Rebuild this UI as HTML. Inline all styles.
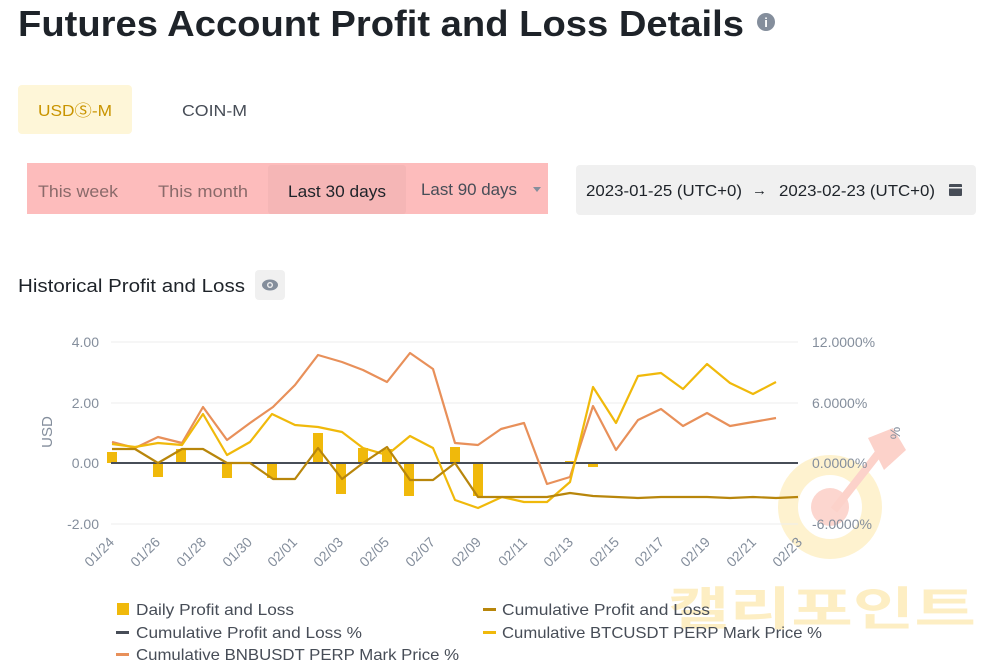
<!DOCTYPE html>
<html><head><meta charset="utf-8"><style>
html,body{margin:0;padding:0;background:#fff;}
svg{display:block;font-family:"Liberation Sans","Noto Sans CJK KR",sans-serif;}
</style></head><body>
<svg width="988" height="666" viewBox="0 0 988 666" xmlns="http://www.w3.org/2000/svg">
<text x="18" y="36" font-size="36" font-weight="bold" fill="#1e2329" textLength="726" lengthAdjust="spacingAndGlyphs">Futures Account Profit and Loss Details</text>
<circle cx="766" cy="22" r="9" fill="#848e9c"/><text x="766" y="27" font-size="13" font-weight="bold" fill="#fff" text-anchor="middle">i</text>
<rect x="18" y="85" width="114" height="49" rx="4" fill="#fef6d8"/>
<text x="38" y="116" font-size="16" fill="#c99400" textLength="74" lengthAdjust="spacingAndGlyphs">USDⓈ-M</text>
<text x="182" y="116" font-size="16" fill="#474d57" textLength="65" lengthAdjust="spacingAndGlyphs">COIN-M</text>
<rect x="27" y="163" width="521" height="51" fill="#fdbcbc"/>
<rect x="268" y="165" width="138" height="49" rx="3" fill="#f5b6b6"/>
<text x="38" y="197" font-size="17" fill="#8a6a6a" textLength="80" lengthAdjust="spacingAndGlyphs">This week</text>
<text x="158" y="197" font-size="17" fill="#8a6a6a" textLength="90" lengthAdjust="spacingAndGlyphs">This month</text>
<text x="288" y="197" font-size="17" fill="#1e2329" textLength="98" lengthAdjust="spacingAndGlyphs">Last 30 days</text>
<text x="421" y="195" font-size="17" fill="#474d57" textLength="96" lengthAdjust="spacingAndGlyphs">Last 90 days</text>
<path d="M533 187 L541 187 L537 192 Z" fill="#848e9c"/>
<rect x="576" y="165" width="400" height="50" rx="4" fill="#f0f0f0"/>
<text x="586" y="196" font-size="16" fill="#1e2329" textLength="156" lengthAdjust="spacingAndGlyphs">2023-01-25 (UTC+0)</text>
<text x="752" y="195" font-size="15" fill="#1e2329">→</text>
<text x="779" y="196" font-size="16" fill="#1e2329" textLength="156" lengthAdjust="spacingAndGlyphs">2023-02-23 (UTC+0)</text>
<rect x="949" y="184" width="13" height="12" rx="1" fill="#474d57"/><rect x="949" y="187" width="13" height="1.5" fill="#f0f0f0"/>
<text x="18" y="292" font-size="18" fill="#1e2329" textLength="227" lengthAdjust="spacingAndGlyphs">Historical Profit and Loss</text>
<rect x="255" y="270" width="30" height="30" rx="4" fill="#f0f0f0"/>
<ellipse cx="270" cy="285" rx="8" ry="5.5" fill="#848e9c"/><circle cx="270" cy="285" r="3" fill="#f0f0f0"/><circle cx="270" cy="285" r="1.6" fill="#848e9c"/>

<!-- watermark -->
<circle cx="830" cy="507" r="42" fill="none" stroke="#fdedbb" stroke-width="20" opacity="0.7"/>
<circle cx="830" cy="507" r="19" fill="#fcd2ca" opacity="0.9"/>
<path d="M834 510 L885 445" stroke="#fcd2ca" stroke-width="8"/>
<path d="M868 438 L893 428 L906 450 L884 470 Z" fill="#fcd2ca"/>
<text x="668" y="625" font-size="46" font-weight="bold" fill="#fde9b0" opacity="0.75" textLength="308" lengthAdjust="spacingAndGlyphs">캘리포인트</text>

<!-- grid -->
<g stroke="#eeeeee" stroke-width="1">
<line x1="111" y1="342" x2="798" y2="342"/><line x1="111" y1="403" x2="798" y2="403"/><line x1="111" y1="524" x2="798" y2="524"/>
</g>
<g font-size="14" fill="#848e9c">
<text x="99" y="347" text-anchor="end">4.00</text>
<text x="99" y="408" text-anchor="end">2.00</text>
<text x="99" y="468" text-anchor="end">0.00</text>
<text x="99" y="529" text-anchor="end">-2.00</text>
<text x="812" y="347">12.0000%</text>
<text x="812" y="408">6.0000%</text>
<text x="812" y="468">0.0000%</text>
<text x="812" y="529">-6.0000%</text>
<text transform="translate(52,432) rotate(-90)" text-anchor="middle" font-size="15">USD</text>
<text transform="translate(900,433) rotate(-90)" text-anchor="middle" font-size="14">%</text>
</g>
<g font-size="14" fill="#848e9c" text-anchor="end">
<text transform="translate(115,543) rotate(-45)">01/24</text>
<text transform="translate(161,543) rotate(-45)">01/26</text>
<text transform="translate(207,543) rotate(-45)">01/28</text>
<text transform="translate(253,543) rotate(-45)">01/30</text>
<text transform="translate(298,543) rotate(-45)">02/01</text>
<text transform="translate(344,543) rotate(-45)">02/03</text>
<text transform="translate(390,543) rotate(-45)">02/05</text>
<text transform="translate(436,543) rotate(-45)">02/07</text>
<text transform="translate(482,543) rotate(-45)">02/09</text>
<text transform="translate(528,543) rotate(-45)">02/11</text>
<text transform="translate(574,543) rotate(-45)">02/13</text>
<text transform="translate(620,543) rotate(-45)">02/15</text>
<text transform="translate(665,543) rotate(-45)">02/17</text>
<text transform="translate(711,543) rotate(-45)">02/19</text>
<text transform="translate(757,543) rotate(-45)">02/21</text>
<text transform="translate(803,543) rotate(-45)">02/23</text>
</g>
<!-- bars -->
<g fill="#f0b90b">
<rect x="107" y="452" width="10" height="11"/>
<rect x="153" y="463" width="10" height="14"/>
<rect x="176" y="449" width="10" height="14"/>
<rect x="222" y="463" width="10" height="15"/>
<rect x="267" y="463" width="10" height="15"/>
<rect x="313" y="433" width="10" height="30"/>
<rect x="336" y="463" width="10" height="31"/>
<rect x="358" y="448" width="10" height="15"/>
<rect x="382" y="449" width="10" height="14"/>
<rect x="404" y="463" width="10" height="33"/>
<rect x="450" y="447" width="10" height="16"/>
<rect x="473" y="463" width="10" height="33"/>
<rect x="565" y="461" width="10" height="2"/>
<rect x="588" y="463" width="10" height="4"/>
</g>
<line x1="111" y1="463" x2="798" y2="463" stroke="#474d57" stroke-width="2"/>
<polyline fill="none" stroke="#e8905a" stroke-width="2.2" stroke-linejoin="round" points="112,442 135,448 158,437 182,443 203,407 227,440 250,423 273,407 295,385 318,355 342,362 363,370 387,382 410,353 433,369 455,443 478,445 501,429 524,423 547,484 570,477 593,406 616,450 638,420 661,409 683,426 707,413 730,426 753,422 776,418"/>
<polyline fill="none" stroke="#f0b90b" stroke-width="2.2" stroke-linejoin="round" points="112,444 135,447 158,443 182,445 203,414 227,455 250,442 272,414 295,425 318,427 342,432 363,448 387,455 410,436 433,448 455,500 478,508 502,497 524,502 547,502 570,482 593,387 616,423 638,376 661,373 683,389 707,364 730,383 753,394 776,382"/>
<polyline fill="none" stroke="#b8860b" stroke-width="2.2" stroke-linejoin="round" points="112,449 135,449 158,463 182,449 203,449 227,463 250,463 273,479 295,479 318,448 342,479 363,463 387,447 410,480 433,480 455,463 478,497 501,497 524,497 547,497 570,493 593,496 616,497 638,498 661,497 683,497 707,497 730,498 753,497 776,498 798,497"/>
<!-- legend -->
<g font-size="16" fill="#474d57">
<rect x="117" y="603" width="12" height="12" fill="#f0b90b"/>
<text x="136" y="615" textLength="158" lengthAdjust="spacingAndGlyphs">Daily Profit and Loss</text>
<rect x="116" y="631" width="13" height="3" fill="#474d57"/>
<text x="136" y="638" textLength="226" lengthAdjust="spacingAndGlyphs">Cumulative Profit and Loss %</text>
<rect x="116" y="653" width="13" height="3" fill="#e8905a"/>
<text x="136" y="660" textLength="323" lengthAdjust="spacingAndGlyphs">Cumulative BNBUSDT PERP Mark Price %</text>
<rect x="483" y="608" width="13" height="3" fill="#b8860b"/>
<text x="502" y="615" textLength="208" lengthAdjust="spacingAndGlyphs">Cumulative Profit and Loss</text>
<rect x="483" y="631" width="13" height="3" fill="#f0b90b"/>
<text x="502" y="638" textLength="320" lengthAdjust="spacingAndGlyphs">Cumulative BTCUSDT PERP Mark Price %</text>
</g>
</svg>
</body></html>
